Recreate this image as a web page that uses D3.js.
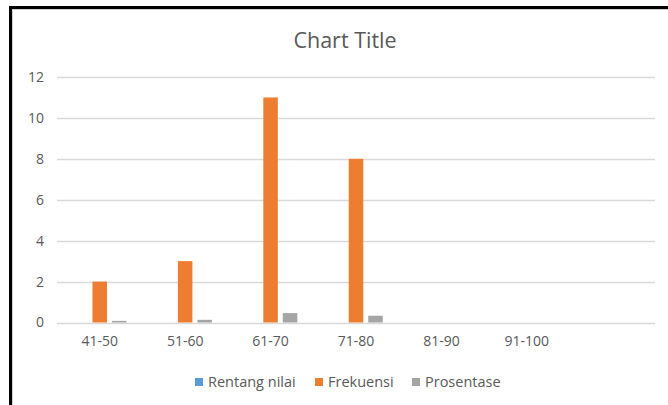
<!DOCTYPE html>
<html>
<head>
<meta charset="utf-8">
<script src="https://cdn.jsdelivr.net/npm/d3@7/dist/d3.min.js"></script>
<style>
  body { margin: 0; background: #fff; }
  svg { display: block; font-family: "Open Sans", "Noto Sans", sans-serif; }
</style>
</head>
<body>
<svg id="chart" width="668" height="405"></svg>
<script>
var categories = ["41-50", "51-60", "61-70", "71-80", "81-90", "91-100", ""];
var rentangNilai = [0, 0, 0, 0, 0, 0, 0];
var frekuensi = [2, 3, 11, 8, 0, 0, 0];
var prosentase = [0.08, 0.13, 0.46, 0.33, 0, 0, 0];
var seriesNames = ["Rentang nilai", "Frekuensi", "Prosentase"];
var yTicks = [0, 2, 4, 6, 8, 10, 12];

var colors = ["#5B9BD5", "#ED7D31", "#A5A5A5"];
var seriesValues = [rentangNilai, frekuensi, prosentase];

var svg = d3.select("#chart"),
    width = +svg.attr("width"),
    height = +svg.attr("height"),
    margin = {top: 77, right: 13, bottom: 82.5, left: 57};

// frame (only top and left edges show in the crop)
svg.append("rect")
    .attr("x", 12.5).attr("y", 9.5)
    .attr("width", 700).attr("height", 450)
    .attr("fill", "none")
    .attr("stroke", "#d0d0d0")
    .attr("stroke-width", 1);
svg.append("rect")
    .attr("x", 10.5).attr("y", 7.5)
    .attr("width", 700).attr("height", 450)
    .attr("fill", "none")
    .attr("stroke", "#000")
    .attr("stroke-width", 3);

svg.append("text")
    .attr("x", 345)
    .attr("y", 48)
    .attr("text-anchor", "middle")
    .attr("fill", "#595959")
    .attr("font-size", "21.5px")
    .text("Chart Title");

var x = d3.scaleBand()
    .domain(categories.map(function(d, i) { return i; }))
    .range([margin.left, width - margin.right]);

var y = d3.scaleLinear()
    .domain([0, 12])
    .range([height - margin.bottom, margin.top]);

var inner = d3.scaleBand()
    .domain(seriesNames)
    .range([-26.75, 26.75])
    .paddingInner(0.256);

// gridlines
svg.append("g")
    .selectAll("line")
    .data(yTicks)
    .enter().append("line")
    .attr("x1", margin.left)
    .attr("x2", width - margin.right)
    .attr("y1", function(d) { return Math.round(y(d)) + 0.5; })
    .attr("y2", function(d) { return Math.round(y(d)) + 0.5; })
    .attr("stroke", "#D9D9D9")
    .attr("stroke-width", 1.3);

// y labels
var yAxis = svg.append("g")
    .attr("transform", "translate(" + (margin.left - 13) + ",0)")
    .call(d3.axisLeft(y).tickValues(yTicks).tickSize(0).tickPadding(0));
yAxis.select(".domain").remove();
yAxis.selectAll("text")
    .attr("fill", "#595959")
    .attr("font-size", "14px")
    .attr("font-family", "\"Open Sans\", \"Noto Sans\", sans-serif");

// x labels
var xAxis = svg.append("g")
    .attr("transform", "translate(0," + (height - margin.bottom) + ")")
    .call(d3.axisBottom(x).tickFormat(function(i) { return categories[i]; }).tickSize(0).tickPadding(14));
xAxis.select(".domain").remove();
xAxis.selectAll("text")
    .attr("fill", "#595959")
    .attr("font-size", "14px")
    .attr("font-family", "\"Open Sans\", \"Noto Sans\", sans-serif");

// bars
seriesNames.forEach(function(name, s) {
  svg.append("g")
      .attr("fill", colors[s])
      .selectAll("rect")
      .data(seriesValues[s])
      .enter().append("rect")
      .attr("x", function(d, i) { return x(i) + x.bandwidth() / 2 + inner(name); })
      .attr("width", inner.bandwidth())
      .attr("y", function(d) { return y(d); })
      .attr("height", function(d) { return y(0) - y(d); });
});

// legend
var legendX = [195, 315, 412];
var legend = svg.append("g")
    .selectAll("g")
    .data(seriesNames)
    .enter().append("g")
    .attr("transform", function(d, i) { return "translate(" + legendX[i] + ",378)"; });
legend.append("rect")
    .attr("width", 8).attr("height", 8)
    .attr("fill", function(d, i) { return colors[i]; });
legend.append("text")
    .attr("x", 13)
    .attr("y", 9)
    .attr("fill", "#595959")
    .attr("font-size", "14.5px")
    .text(function(d) { return d; });
</script>
</body>
</html>
